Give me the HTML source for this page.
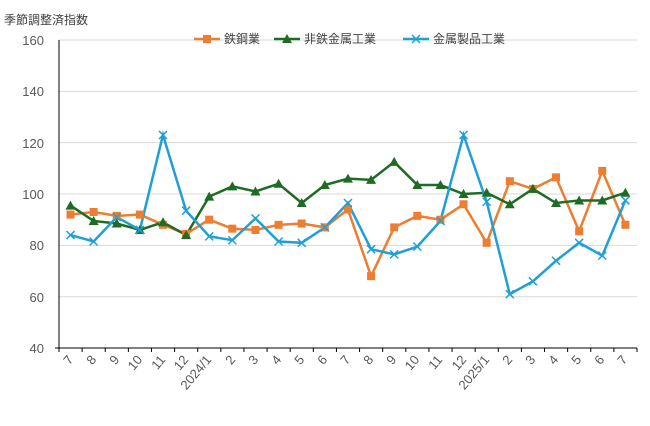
<!DOCTYPE html>
<html><head><meta charset="utf-8"><style>
body{margin:0;background:#fff}
svg text{font-family:"Liberation Sans","Noto Sans CJK JP",sans-serif;fill:#595959}
</style></head><body>
<svg id="s" width="650" height="421" xmlns="http://www.w3.org/2000/svg">
<text x="4" y="24" font-size="12" style="fill:#404040">季節調整済指数</text>
<g font-size="13" text-anchor="end">
<text x="44" y="45">160</text><text x="44" y="96">140</text><text x="44" y="148">120</text>
<text x="44" y="199">100</text><text x="44" y="250">80</text><text x="44" y="302">60</text><text x="44" y="353">40</text>
</g>
<g id="grid" stroke="#d9d9d9" stroke-width="1"></g>
<line x1="59" y1="40" x2="59" y2="348" stroke="#000"/>
<line x1="55" y1="348" x2="637" y2="348" stroke="#000"/>
<g id="ticks" stroke="#000"></g>
<g font-size="13" text-anchor="end" id="lab">
<text transform="translate(74,360) rotate(-50)">7</text>
<text transform="translate(97,360) rotate(-50)">8</text>
<text transform="translate(120,360) rotate(-50)">9</text>
<text transform="translate(143,360) rotate(-50)">10</text>
<text transform="translate(166,360) rotate(-50)">11</text>
<text transform="translate(189,360) rotate(-50)">12</text>
<text transform="translate(212,360) rotate(-50)">2024/1</text>
<text transform="translate(236,360) rotate(-50)">2</text>
<text transform="translate(259,360) rotate(-50)">3</text>
<text transform="translate(282,360) rotate(-50)">4</text>
<text transform="translate(305,360) rotate(-50)">5</text>
<text transform="translate(328,360) rotate(-50)">6</text>
<text transform="translate(351,360) rotate(-50)">7</text>
<text transform="translate(374,360) rotate(-50)">8</text>
<text transform="translate(397,360) rotate(-50)">9</text>
<text transform="translate(420,360) rotate(-50)">10</text>
<text transform="translate(443,360) rotate(-50)">11</text>
<text transform="translate(467,360) rotate(-50)">12</text>
<text transform="translate(490,360) rotate(-50)">2025/1</text>
<text transform="translate(513,360) rotate(-50)">2</text>
<text transform="translate(536,360) rotate(-50)">3</text>
<text transform="translate(559,360) rotate(-50)">4</text>
<text transform="translate(582,360) rotate(-50)">5</text>
<text transform="translate(605,360) rotate(-50)">6</text>
<text transform="translate(628,360) rotate(-50)">7</text>
</g>
<g id="series"></g>
<g font-size="12">
<line x1="194" y1="39" x2="220" y2="39" stroke="#ed7d31" stroke-width="2.5"/><rect x="203" y="35" width="8" height="8" fill="#ed7d31"/>
<text x="224" y="43" style="fill:#404040">鉄鋼業</text>
<line x1="274" y1="39" x2="300" y2="39" stroke="#1e6b24" stroke-width="2.5"/><polygon points="287,34 292,43 282,43" fill="#1e6b24"/>
<text x="304" y="43" style="fill:#404040">非鉄金属工業</text>
<line x1="403" y1="39" x2="429" y2="39" stroke="#1ea0d6" stroke-width="2.5"/><path d="M412,35 l8,8 M420,35 l-8,8" stroke="#1ea0d6" stroke-width="1.5"/>
<text x="433" y="43" style="fill:#404040">金属製品工業</text>
</g>
</svg>
<script>
var ns="http://www.w3.org/2000/svg";
function el(t,a,p){var e=document.createElementNS(ns,t);for(var k in a)e.setAttribute(k,a[k]);document.getElementById(p).appendChild(e);return e;}
for(var v=60;v<=160;v+=20){var y=40+(160-v)*2.567;el('line',{x1:59,x2:637,y1:y,y2:y},'grid');}
for(var k=0;k<=25;k++){var x=59+23.12*k;el('line',{x1:x,x2:x,y1:348,y2:352},'ticks');}
function X(i){return 70.5+23.12*i;}function Y(v){return 40+(160-v)*2.567;}
var steel=[92,93,91.5,92,88,84.5,90,86.5,86,88,88.5,87,94,68,87,91.5,90,96,81,105,102,106.5,85.5,109,88];
var nf=[95.5,89.5,88.5,86,89,84,99,103,101,104,96.5,103.5,106,105.5,112.5,103.5,103.5,100,100.5,96,102,96.5,97.5,97.5,100.5];
var mp=[84,81.5,91,86,123,93.5,83.5,82,90.5,81.5,81,87,96.5,78.5,76.5,79.5,89.5,123,97,61,66,74,81,76,97.5];
function line(d,c){el('polyline',{points:d.map(function(v,i){return X(i)+','+Y(v)}).join(' '),fill:'none',stroke:c,'stroke-width':2.5},'series');}
line(steel,'#ed7d31');line(nf,'#1e6b24');line(mp,'#1ea0d6');
steel.forEach(function(v,i){el('rect',{x:X(i)-4,y:Y(v)-4,width:8,height:8,fill:'#ed7d31'},'series');});
nf.forEach(function(v,i){var x=X(i),y=Y(v);el('polygon',{points:x+','+(y-5)+' '+(x+5)+','+(y+4)+' '+(x-5)+','+(y+4),fill:'#1e6b24'},'series');});
mp.forEach(function(v,i){var x=X(i),y=Y(v);el('path',{d:'M'+(x-4)+','+(y-4)+' l8,8 M'+(x+4)+','+(y-4)+' l-8,8',stroke:'#1ea0d6','stroke-width':1.5},'series');});
</script>
</body></html>
